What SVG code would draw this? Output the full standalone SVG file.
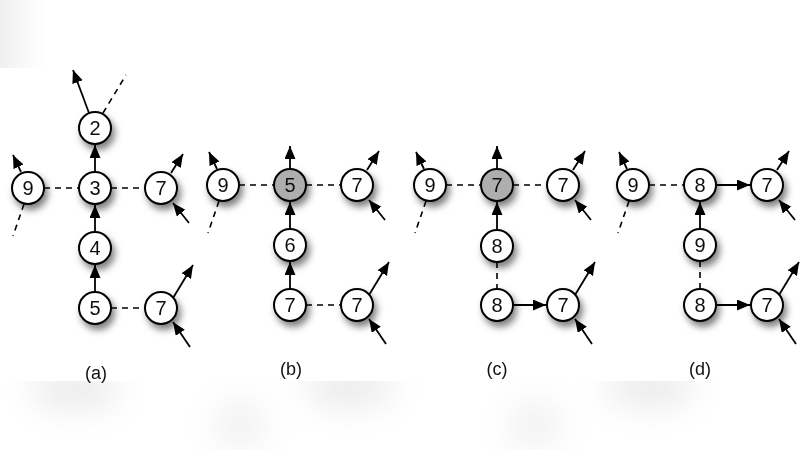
<svg xmlns="http://www.w3.org/2000/svg" width="800" height="450" viewBox="0 0 800 450">
<defs>
<filter id="sh" x="-50%" y="-50%" width="200%" height="200%">
<feDropShadow dx="3" dy="5" stdDeviation="3.5" flood-color="#000" flood-opacity="0.5"/>
</filter>
<filter id="blur" x="-50%" y="-50%" width="200%" height="200%">
<feGaussianBlur stdDeviation="16"/>
</filter>
<clipPath id="bot"><rect x="0" y="381" width="800" height="69"/></clipPath>
<linearGradient id="tl" x1="0" y1="0" x2="1" y2="0">
<stop offset="0" stop-color="#f0f0f0"/>
<stop offset="1" stop-color="#ffffff"/>
</linearGradient>
<marker id="ah" markerUnits="userSpaceOnUse" markerWidth="14" markerHeight="12" refX="13" refY="5.5" orient="auto">
<path d="M0,0 L13,5.5 L0,11 z" fill="#000"/>
</marker>
<style>
.n circle{fill:#fff;stroke:#000;stroke-width:2}
.n.g circle{fill:#aeaeae}
.n text{font-family:"Liberation Sans",Arial,sans-serif;font-size:20px;text-anchor:middle;fill:#111}
.a{stroke:#000;stroke-width:1.8;fill:none;marker-end:url(#ah)}
.d{stroke:#000;stroke-width:1.6;fill:none;stroke-dasharray:6,5}
.lbl{font-family:"Liberation Sans",Arial,sans-serif;font-size:18px;text-anchor:middle;fill:#111}
</style>
</defs>
<rect width="800" height="450" fill="#fff"/>
<rect x="0" y="0" width="45" height="68" fill="url(#tl)"/>
<g clip-path="url(#bot)" filter="url(#blur)" fill="#cfcfcf" opacity="0.45">
<ellipse cx="75" cy="390" rx="45" ry="18"/>
<ellipse cx="350" cy="388" rx="45" ry="18"/>
<ellipse cx="650" cy="388" rx="45" ry="18"/>
<ellipse cx="240" cy="425" rx="28" ry="25" opacity="0.6"/>
<ellipse cx="535" cy="425" rx="28" ry="25" opacity="0.6"/>
</g>

<g id="connectors">
<!-- panel a -->
<line class="a" x1="89" y1="113" x2="73" y2="70"/>
<line class="d" x1="103" y1="113" x2="126" y2="75"/>
<line class="a" x1="95" y1="172" x2="95" y2="145"/>
<line class="a" x1="95" y1="232" x2="95" y2="205"/>
<line class="a" x1="95" y1="292" x2="95" y2="265"/>
<line class="d" x1="44" y1="188" x2="79" y2="188"/>
<line class="d" x1="111" y1="188" x2="145" y2="188"/>
<line class="d" x1="111" y1="308" x2="145" y2="308"/>
<line class="a" x1="21" y1="172" x2="13" y2="155"/>
<line class="d" x1="24" y1="204" x2="13" y2="236"/>
<line class="a" x1="171" y1="173" x2="183" y2="154"/>
<line class="a" x1="189" y1="223" x2="173" y2="203"/>
<line class="a" x1="173" y1="298" x2="193" y2="265"/>
<line class="a" x1="190" y1="347" x2="173" y2="322"/>
<!-- panel b -->
<line class="a" x1="290" y1="169" x2="290" y2="146"/>
<line class="a" x1="290" y1="229" x2="290" y2="202"/>
<line class="a" x1="290" y1="289" x2="290" y2="262"/>
<line class="d" x1="239" y1="185" x2="274" y2="185"/>
<line class="d" x1="306" y1="185" x2="341" y2="185"/>
<line class="d" x1="306" y1="305" x2="341" y2="305"/>
<line class="a" x1="217" y1="169" x2="209" y2="152"/>
<line class="d" x1="219" y1="201" x2="208" y2="233"/>
<line class="a" x1="367" y1="170" x2="379" y2="151"/>
<line class="a" x1="385" y1="220" x2="369" y2="200"/>
<line class="a" x1="369" y1="295" x2="389" y2="262"/>
<line class="a" x1="386" y1="344" x2="369" y2="319"/>
<!-- panel c -->
<line class="a" x1="497" y1="169" x2="497" y2="146"/>
<line class="a" x1="497" y1="230" x2="497" y2="202"/>
<line class="d" x1="497" y1="262" x2="497" y2="289"/>
<line class="a" x1="513" y1="305" x2="546" y2="305"/>
<line class="d" x1="446" y1="185" x2="481" y2="185"/>
<line class="d" x1="513" y1="185" x2="547" y2="185"/>
<line class="a" x1="424" y1="169" x2="416" y2="152"/>
<line class="d" x1="426" y1="201" x2="415" y2="233"/>
<line class="a" x1="573" y1="170" x2="585" y2="151"/>
<line class="a" x1="591" y1="220" x2="575" y2="200"/>
<line class="a" x1="575" y1="295" x2="595" y2="262"/>
<line class="a" x1="592" y1="344" x2="575" y2="319"/>
<!-- panel d -->
<line class="a" x1="700" y1="229" x2="700" y2="202"/>
<line class="d" x1="700" y1="261" x2="700" y2="289"/>
<line class="a" x1="716" y1="185" x2="750" y2="185"/>
<line class="a" x1="716" y1="305" x2="750" y2="305"/>
<line class="d" x1="649" y1="185" x2="684" y2="185"/>
<line class="a" x1="627" y1="169" x2="619" y2="152"/>
<line class="d" x1="629" y1="201" x2="618" y2="233"/>
<line class="a" x1="777" y1="170" x2="789" y2="151"/>
<line class="a" x1="795" y1="220" x2="779" y2="200"/>
<line class="a" x1="779" y1="295" x2="799" y2="262"/>
<line class="a" x1="796" y1="344" x2="779" y2="319"/>
</g>

<g filter="url(#sh)">
<g id="a2" class="n"><circle cx="95" cy="128" r="16"/><text x="95" y="135">2</text></g>
<g id="a3" class="n"><circle cx="95" cy="188" r="16"/><text x="95" y="195">3</text></g>
<g id="a9" class="n"><circle cx="28" cy="188" r="16"/><text x="28" y="195">9</text></g>
<g id="a7t" class="n"><circle cx="161" cy="188" r="16"/><text x="161" y="195">7</text></g>
<g id="a4" class="n"><circle cx="95" cy="248" r="16"/><text x="95" y="255">4</text></g>
<g id="a5" class="n"><circle cx="95" cy="308" r="16"/><text x="95" y="315">5</text></g>
<g id="a7b" class="n"><circle cx="161" cy="308" r="16"/><text x="161" y="315">7</text></g>

<g id="b9" class="n"><circle cx="223" cy="185" r="16"/><text x="223" y="192">9</text></g>
<g id="b5" class="n g"><circle cx="290" cy="185" r="16"/><text x="290" y="192">5</text></g>
<g id="b7t" class="n"><circle cx="357" cy="185" r="16"/><text x="357" y="192">7</text></g>
<g id="b6" class="n"><circle cx="290" cy="245" r="16"/><text x="290" y="252">6</text></g>
<g id="b7" class="n"><circle cx="290" cy="305" r="16"/><text x="290" y="312">7</text></g>
<g id="b7b" class="n"><circle cx="357" cy="305" r="16"/><text x="357" y="312">7</text></g>

<g id="c9" class="n"><circle cx="430" cy="185" r="16"/><text x="430" y="192">9</text></g>
<g id="c7g" class="n g"><circle cx="497" cy="185" r="16"/><text x="497" y="192">7</text></g>
<g id="c7t" class="n"><circle cx="563" cy="185" r="16"/><text x="563" y="192">7</text></g>
<g id="c8" class="n"><circle cx="497" cy="246" r="16"/><text x="497" y="253">8</text></g>
<g id="c8b" class="n"><circle cx="497" cy="305" r="16"/><text x="497" y="312">8</text></g>
<g id="c7b" class="n"><circle cx="563" cy="305" r="16"/><text x="563" y="312">7</text></g>

<g id="d9" class="n"><circle cx="633" cy="185" r="16"/><text x="633" y="192">9</text></g>
<g id="d8" class="n"><circle cx="700" cy="185" r="16"/><text x="700" y="192">8</text></g>
<g id="d7t" class="n"><circle cx="767" cy="185" r="16"/><text x="767" y="192">7</text></g>
<g id="d9m" class="n"><circle cx="700" cy="245" r="16"/><text x="700" y="252">9</text></g>
<g id="d8b" class="n"><circle cx="700" cy="305" r="16"/><text x="700" y="312">8</text></g>
<g id="d7b" class="n"><circle cx="767" cy="305" r="16"/><text x="767" y="312">7</text></g>
</g>

<g id="labels">
<text class="lbl" x="96" y="379">(a)</text>
<text class="lbl" x="291" y="375">(b)</text>
<text class="lbl" x="497" y="375">(c)</text>
<text class="lbl" x="700" y="375">(d)</text>
</g>
</svg>
